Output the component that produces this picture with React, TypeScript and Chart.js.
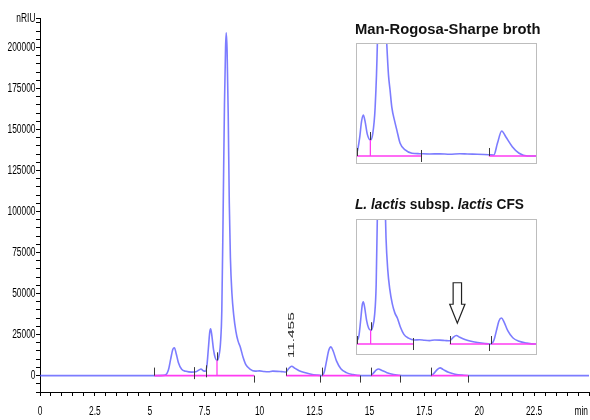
import React, { useEffect, useRef } from 'react';
import { Chart, registerables } from 'chart.js';

Chart.register(...registerables);

// ---------------- DATA ----------------
// L. lactis subsp. lactis CFS chromatogram (main chart and lower inset)
const cfsTimes = [
  0, 5.2, 5.7, 5.85, 5.95, 6.05, 6.12, 6.2, 6.3, 6.45, 6.65, 6.9, 7.1, 7.25, 7.33, 7.43, 7.53,
  7.6, 7.67, 7.73, 7.77, 7.82, 7.9, 7.98, 8.06, 8.14, 8.22, 8.28, 8.34, 8.4, 8.45, 8.48, 8.52,
  8.57, 8.62, 8.67, 8.74, 8.82, 8.92, 9.02, 9.12, 9.24, 9.38, 9.56, 9.8, 10.0, 10.2, 10.4, 10.6,
  10.8, 11.0, 11.2, 11.32, 11.46, 11.6, 11.8, 12.0, 12.3, 12.6, 12.84, 12.95, 13.05, 13.15, 13.25,
  13.35, 13.5, 13.7, 13.95, 14.25, 14.6, 15.07, 15.2, 15.32, 15.42, 15.55, 15.8, 16.1, 16.5, 17.8,
  17.95, 18.1, 18.22, 18.35, 18.6, 18.9, 19.3, 19.6, 25,
];
const cfsValues = [
  0, 0, 300, 3500, 10000, 16000, 17000, 13500, 8000, 3800, 2600, 2100, 2300, 3500, 4000, 3000, 2700,
  6000, 17000, 26500, 28500, 25000, 16000, 10800, 9300, 11500, 20000, 40000, 100000, 165000, 200000, 209000, 198000,
  160000, 105000, 72000, 50000, 37000, 27000, 21000, 17500, 11500, 6500, 4000, 2700, 2900, 2500, 2300, 2700,
  2600, 2400, 2200, 4200, 5700, 4500, 3000, 2000, 1000, 300, 0, 2500, 9000, 15500, 17500,
  15000, 9000, 4200, 1800, 600, 0, 0, 1800, 3500, 4000, 3200, 1800, 700, 0, 0,
  1500, 3800, 4700, 3800, 2000, 800, 200, 0, 0,
];

// Man-Rogosa-Sharpe broth chromatogram (upper inset)
const brothTimes = [
  7.45, 7.52, 7.62, 7.7, 7.77, 7.84, 7.93, 8.05, 8.14, 8.24, 8.33, 8.4, 8.48, 8.56, 8.63, 8.7,
  8.77, 8.83, 8.9, 9.03, 9.1, 9.23, 9.43, 9.7, 10.0, 10.4, 10.8, 11.2, 11.6, 11.9, 12.3, 12.75,
  12.95, 13.09, 13.26, 13.42, 13.68, 13.95, 14.28, 14.7,
];
const brothValues = [
  1500, 2500, 12000, 24000, 28500, 24000, 15000, 11100, 15000, 34000, 80000, 160000, 200000, 160000, 105000, 78000,
  56000, 46000, 34000, 23000, 18000, 8800, 4200, 1900, 1600, 1400, 1500, 1200, 1600, 1400, 1200, 900,
  700, 8800, 17400, 13400, 6500, 1900, 0, 0,
];

// integration baselines (pink), drop lines and peak start/end marks
const mainBaseStarts = [5.2, 11.2, 12.84, 15.07, 17.8];
const mainBaseEnds = [9.75, 12.75, 14.57, 16.4, 19.5];
const mainDropTimes = [8.06];
const mainDropValues = [9300];
const mainMarkTimes = [5.2, 7.03, 7.55, 8.06, 9.75, 11.2, 12.75, 12.84, 14.57, 15.07, 16.4, 17.8, 19.5];
const mainMarkValues = [0, 1500, 2600, 9300, 0, 0, 0, 0, 0, 0, 0, 0, 0];
const mainMarkDirs = [1, 0, 0, 1, -1, 1, -1, 1, -1, 1, -1, 1, -1];

const brothBaseStarts = [7.5, 12.75];
const brothBaseEnds = [10.07, 14.66];
const brothDropTimes = [8.05];
const brothDropValues = [11100];
const brothMarkTimes = [7.5, 8.05, 10.07, 12.75, 14.64];
const brothMarkValues = [0, 11100, 0, 0, 0];
const brothMarkDirs = [1, 1, 0, 1, -1];

const cfsInsetBaseStarts = [7.5, 11.2, 12.84];
const cfsInsetBaseEnds = [9.75, 12.75, 14.66];
const cfsInsetMarkTimes = [7.5, 8.06, 9.75, 11.2, 12.75, 12.84, 14.64];
const cfsInsetMarkValues = [0, 9300, 0, 0, 0, 0, 0];
const cfsInsetMarkDirs = [1, 1, 0, 1, -1, 1, -1];

// labelled peak and arrow annotation
const peakLabelTimes = [11.455];
const peakLabelValues = [5700];
const peakLabelTexts = ['11.455'];
const arrowTime = 11.5;
const arrowTipValue = 14000;
const arrowTopValue = 41300;

// axes
const xMin = 0;
const xMax = 25;
const xMinorStep = 0.5;
const xLabelValues = [0, 2.5, 5, 7.5, 10, 12.5, 15, 17.5, 20, 22.5];
const xLabelTexts = ['0', '2.5', '5', '7.5', '10', '12.5', '15', '17.5', '20', '22.5'];
const xUnit = 'min';
const yMin = -10000;
const yMax = 218000;
const yMinorStep = 5000;
const yLabelValues = [0, 25000, 50000, 75000, 100000, 125000, 150000, 175000, 200000];
const yLabelTexts = ['0', '25000', '50000', '75000', '100000', '125000', '150000', '175000', '200000'];
const yUnit = 'nRIU';

const insetXMin = 7.48;
const insetXMax = 14.66;
const inset1YMin = -5560;
const inset1YMax = 78500;
const inset2YMin = -7400;
const inset2YMax = 84250;

const title1Parts = [{ text: 'Man-Rogosa-Sharpe broth', italic: false }];
const title2Parts = [
  { text: 'L. lactis', italic: true },
  { text: ' subsp. ', italic: false },
  { text: 'lactis', italic: true },
  { text: ' CFS', italic: false },
];

// ---------------- STYLE ----------------
const BLUE = 'rgba(80,80,255,0.75)';
const PINK = '#ff3cf2';
const MARK = '#3a3a3a';
const LABEL_FONT = '12px "Liberation Sans", Arial, sans-serif';
const LABEL_SQUEEZE = 0.7;
const TITLE_FONT = '"Liberation Sans", Arial, sans-serif';

// ---------------- helpers ----------------
const pts = (ts: number[], vs: number[]) => ts.map((t, i) => ({ x: t, y: vs[i] }));
const segs = (starts: number[], ends: number[]) => {
  const out: any[] = [];
  starts.forEach((s, i) => {
    out.push({ x: s, y: 0 }, { x: ends[i], y: 0 });
    if (i < starts.length - 1) out.push({ x: (ends[i] + starts[i + 1]) / 2, y: null });
  });
  return out;
};
const drops = (ts: number[], vs: number[]) => {
  const out: any[] = [];
  ts.forEach((t, i) => {
    out.push({ x: t, y: 0 }, { x: t, y: vs[i] });
    if (i < ts.length - 1) out.push({ x: (t + ts[i + 1]) / 2, y: null });
  });
  return out;
};

const datasets = (ts: number[], vs: number[], bs: number[], be: number[], dt: number[], dv: number[]) => [
  { data: segs(bs, be), borderColor: PINK, borderWidth: 1.6, pointRadius: 0, spanGaps: false, tension: 0 },
  { data: drops(dt, dv), borderColor: PINK, borderWidth: 1.3, pointRadius: 0, spanGaps: false, tension: 0 },
  {
    data: pts(ts, vs),
    borderColor: BLUE,
    borderWidth: 1.6,
    pointRadius: 0,
    cubicInterpolationMode: 'monotone',
  },
];

const marksPlugin = (times: number[], values: number[], dirs: number[]) => ({
  id: 'marks',
  afterDatasetsDraw(chart: any) {
    const { ctx, scales } = chart;
    ctx.save();
    ctx.strokeStyle = MARK;
    ctx.lineWidth = 1;
    times.forEach((t, i) => {
      const x = Math.round(scales.x.getPixelForValue(t)) + 0.5;
      const y = scales.y.getPixelForValue(values[i]);
      let y1 = y - 8, y2 = y;
      if (dirs[i] === 0) { y1 = y - 6; y2 = y + 6; }
      if (dirs[i] === -1) { y1 = y; y2 = y + 7; }
      ctx.beginPath();
      ctx.moveTo(x, y1);
      ctx.lineTo(x, y2);
      ctx.stroke();
    });
    ctx.restore();
  },
});

const drawRich = (ctx: any, parts: any[], x: number, baseline: number, width: number, size: number) => {
  const fontOf = (it: boolean) => `${it ? 'italic ' : ''}bold ${size}px ${TITLE_FONT}`;
  const ws = parts.map((p) => { ctx.font = fontOf(p.italic); return ctx.measureText(p.text).width; });
  const total = ws.reduce((a, b) => a + b, 0);
  ctx.save();
  ctx.translate(x, baseline);
  ctx.scale(width / total, 1);
  ctx.fillStyle = '#111';
  ctx.textBaseline = 'alphabetic';
  ctx.textAlign = 'left';
  let cx = 0;
  parts.forEach((p, i) => { ctx.font = fontOf(p.italic); ctx.fillText(p.text, cx, 0); cx += ws[i]; });
  ctx.restore();
};

// narrow label: text drawn with horizontal squeeze
const narrowText = (ctx: any, text: string, x: number, y: number, align: string, baseline: string) => {
  ctx.save();
  ctx.translate(x, y);
  ctx.scale(LABEL_SQUEEZE, 1);
  ctx.font = LABEL_FONT;
  ctx.fillStyle = '#000';
  ctx.textAlign = align;
  ctx.textBaseline = baseline;
  ctx.fillText(text, 0, 0);
  ctx.restore();
};

const mainDecor = {
  id: 'mainDecor',
  afterDraw(chart: any) {
    const { ctx, scales, chartArea } = chart;
    ctx.save();
    // axis labels
    yLabelValues.forEach((v, i) => {
      narrowText(ctx, yLabelTexts[i], chartArea.left - 4.5, scales.y.getPixelForValue(v) + 0.5, 'right', 'middle');
    });
    narrowText(ctx, yUnit, chartArea.left - 4.5, scales.y.getPixelForValue(yMax) + 1, 'right', 'middle');
    xLabelValues.forEach((v, i) => {
      narrowText(ctx, xLabelTexts[i], scales.x.getPixelForValue(v), chartArea.bottom + 14, 'center', 'top');
    });
    narrowText(ctx, xUnit, chartArea.right - 1, chartArea.bottom + 14, 'right', 'top');
    // peak labels (rotated)
    peakLabelTimes.forEach((t, i) => {
      const x = scales.x.getPixelForValue(t);
      const y = scales.y.getPixelForValue(peakLabelValues[i]) - 8;
      ctx.save();
      ctx.translate(x, y);
      ctx.rotate(-Math.PI / 2);
      ctx.font = `9px "Liberation Sans", Arial, sans-serif`;
      const w = ctx.measureText(peakLabelTexts[i]).width;
      ctx.scale(46 / w, 1);
      ctx.fillStyle = '#2a2a2a';
      ctx.textAlign = 'left';
      ctx.textBaseline = 'middle';
      ctx.fillText(peakLabelTexts[i], 0, 0);
      ctx.restore();
    });
    // inset titles
    drawRich(ctx, title1Parts, 355, 34.3, 185.5, 14.5);
    drawRich(ctx, title2Parts, 355, 209.3, 169, 14.5);
    ctx.restore();
  },
};

const insetFrame = {
  id: 'insetFrame',
  beforeDraw(chart: any) {
    const { ctx, width, height } = chart;
    ctx.save();
    ctx.fillStyle = '#fff';
    ctx.fillRect(0, 0, width, height);
    ctx.restore();
  },
  afterDraw(chart: any) {
    const { ctx, width, height } = chart;
    ctx.save();
    ctx.strokeStyle = '#bdbdbd';
    ctx.lineWidth = 1;
    ctx.strokeRect(0.5, 0.5, width - 1, height - 1);
    ctx.restore();
  },
};

const arrowPlugin = {
  id: 'arrow',
  afterDatasetsDraw(chart: any) {
    const { ctx, scales } = chart;
    const x = scales.x.getPixelForValue(arrowTime);
    const tip = scales.y.getPixelForValue(arrowTipValue);
    const top = scales.y.getPixelForValue(arrowTopValue);
    const sh = 4.2, hh = 7.6, hl = 19;
    ctx.save();
    ctx.beginPath();
    ctx.moveTo(x - sh, top);
    ctx.lineTo(x + sh, top);
    ctx.lineTo(x + sh, tip - hl);
    ctx.lineTo(x + hh, tip - hl);
    ctx.lineTo(x, tip);
    ctx.lineTo(x - hh, tip - hl);
    ctx.lineTo(x - sh, tip - hl);
    ctx.closePath();
    ctx.fillStyle = '#fff';
    ctx.fill();
    ctx.strokeStyle = '#222';
    ctx.lineWidth = 1.2;
    ctx.stroke();
    ctx.restore();
  },
};

const xTickValues: number[] = [];
for (let i = 0; i <= Math.round((xMax - xMin) / xMinorStep); i++) xTickValues.push(xMin + i * xMinorStep);
const yTickValues: number[] = [];
for (let v = yMin; v < yMax - 2000; v += yMinorStep) yTickValues.push(v);
yTickValues.push(yMax);

const insetOptions = (ymin: number, ymax: number): any => ({
  animation: false,
  responsive: false,
  maintainAspectRatio: false,
  layout: { padding: 0 },
  plugins: { legend: { display: false }, tooltip: { enabled: false } },
  scales: {
    x: { type: 'linear', min: insetXMin, max: insetXMax, display: false },
    y: { type: 'linear', min: ymin, max: ymax, display: false },
  },
});

export default function App() {
  const mainRef = useRef<HTMLCanvasElement>(null);
  const in1Ref = useRef<HTMLCanvasElement>(null);
  const in2Ref = useRef<HTMLCanvasElement>(null);

  useEffect(() => {
    const main = new Chart(mainRef.current as HTMLCanvasElement, {
      type: 'line',
      data: { datasets: datasets(cfsTimes, cfsValues, mainBaseStarts, mainBaseEnds, mainDropTimes, mainDropValues) as any },
      options: {
        animation: false,
        responsive: false,
        maintainAspectRatio: false,
        layout: { padding: { top: 18, right: 1, left: 0, bottom: 0 } },
        plugins: { legend: { display: false }, tooltip: { enabled: false } },
        scales: {
          x: {
            type: 'linear',
            min: xMin,
            max: xMax,
            afterBuildTicks: (s: any) => { s.ticks = xTickValues.map((v) => ({ value: v })); },
            afterFit: (s: any) => { s.height = 28; s.paddingLeft = 0; s.paddingRight = 0; },
            ticks: { display: false, autoSkip: false, maxRotation: 0, minRotation: 0 },
            grid: { drawOnChartArea: false, drawTicks: true, tickLength: 4, color: '#000' },
            border: { display: true, color: '#000' },
          },
          y: {
            type: 'linear',
            min: yMin,
            max: yMax,
            afterBuildTicks: (s: any) => { s.ticks = yTickValues.map((v) => ({ value: v })); },
            afterFit: (s: any) => { s.width = 40; s.paddingTop = 0; s.paddingBottom = 0; },
            ticks: { display: false, autoSkip: false },
            grid: { drawOnChartArea: false, drawTicks: true, tickLength: 4, color: '#000' },
            border: { display: true, color: '#000' },
          },
        },
      } as any,
      plugins: [marksPlugin(mainMarkTimes, mainMarkValues, mainMarkDirs), mainDecor],
    });

    const in1 = new Chart(in1Ref.current as HTMLCanvasElement, {
      type: 'line',
      data: { datasets: datasets(brothTimes, brothValues, brothBaseStarts, brothBaseEnds, brothDropTimes, brothDropValues) as any },
      options: insetOptions(inset1YMin, inset1YMax),
      plugins: [insetFrame, marksPlugin(brothMarkTimes, brothMarkValues, brothMarkDirs)],
    });

    const in2 = new Chart(in2Ref.current as HTMLCanvasElement, {
      type: 'line',
      data: { datasets: datasets(cfsTimes, cfsValues, cfsInsetBaseStarts, cfsInsetBaseEnds, mainDropTimes, mainDropValues) as any },
      options: insetOptions(inset2YMin, inset2YMax),
      plugins: [insetFrame, marksPlugin(cfsInsetMarkTimes, cfsInsetMarkValues, cfsInsetMarkDirs), arrowPlugin],
    });

    return () => {
      main.destroy();
      in1.destroy();
      in2.destroy();
    };
  }, []);

  return (
    <div style={{ position: 'absolute', left: 0, top: 0, width: 590, height: 420, background: '#fff' }}>
      <canvas ref={mainRef} width={590} height={420} style={{ position: 'absolute', left: 0, top: 0, width: 590, height: 420 }} />
      <canvas ref={in1Ref} width={181} height={121} style={{ position: 'absolute', left: 356, top: 43, width: 181, height: 121 }} />
      <canvas ref={in2Ref} width={181} height={136} style={{ position: 'absolute', left: 356, top: 219, width: 181, height: 136 }} />
    </div>
  );
}
